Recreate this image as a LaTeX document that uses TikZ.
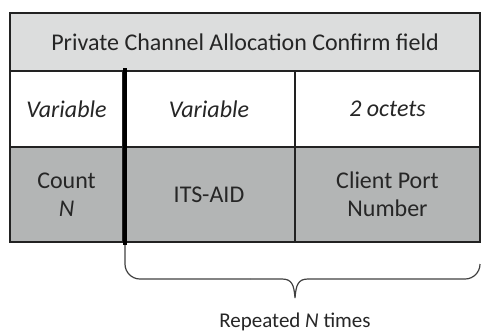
\documentclass[tikz,border=0pt]{standalone}
\usepackage{fontspec}
\setmainfont{Carlito}
\definecolor{hdr}{HTML}{DCDDDD}
\definecolor{dark}{HTML}{B3B5B5}
\definecolor{ln}{HTML}{222222}
\begin{document}
\begin{tikzpicture}[x=1pt,y=-1pt,
  cell/.style={draw=ln,line width=1.2pt,inner sep=0pt,align=center,font=\fontsize{24}{28}\selectfont,text=black!85},
  brace/.style={draw=black!75,line width=1.2pt}]
\useasboundingbox (0,0) rectangle (481,332);
\node[cell,fill=hdr,minimum width=470pt,minimum height=58pt] (hd) at (245,42) {Private Channel Allocation Confirm field};
\node[cell,fill=white,minimum width=113pt,minimum height=76pt] (a1) at (66.5,109) {\itshape Variable};
\node[cell,fill=white,minimum width=172pt,minimum height=76pt] (b1) at (209,109) {\itshape Variable};
\node[cell,fill=white,minimum width=185pt,minimum height=76pt] (c1) at (387.5,109) {\itshape 2 octets};
\node[cell,fill=dark,minimum width=113pt,minimum height=95pt] (a2) at (66.5,194.5) {Count\\\itshape N};
\node[cell,fill=dark,minimum width=172pt,minimum height=95pt] (b2) at (209,194.5) {ITS-AID};
\node[cell,fill=dark,minimum width=185pt,minimum height=95pt] (c2) at (387.5,194.5) {Client Port\\Number};
\coordinate (t0) at (125,68);
\coordinate (t1) at (125,245);
\draw[line width=4.5pt,black] (t0) -- (t1);
\coordinate (tip) at (295,298);
\coordinate (rend) at (480,264);
\draw[brace,rounded corners=15pt] (t1) -- (125,279) -- (250,279);
\draw[brace] (250,279) -- (282,279) .. controls (292,279) and (294,285) .. (tip)
  .. controls (296,285) and (298,279) .. (308,279);
\draw[brace,rounded corners=15pt] (308,279) -- (480,279) -- (rend);
\node[font=\fontsize{21}{24}\selectfont,text=black!85,anchor=base,inner sep=0pt] (lbl) at (295,327) {Repeated \textit{N} times};
\end{tikzpicture}
\end{document}
